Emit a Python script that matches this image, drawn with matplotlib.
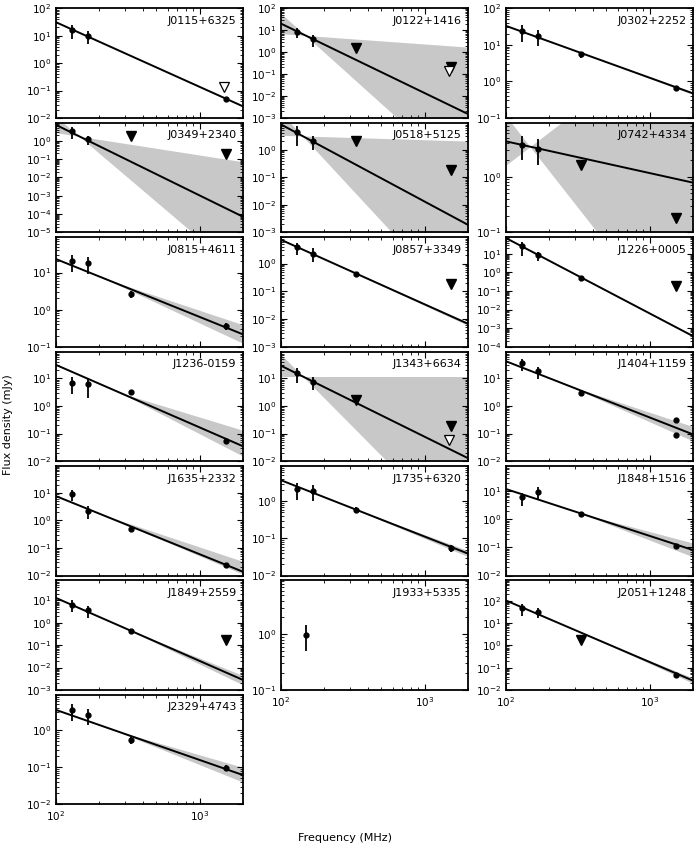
import numpy as np
import matplotlib
matplotlib.use('Agg')
import matplotlib.pyplot as plt
from matplotlib.ticker import LogLocator, NullFormatter

plt.rcParams['font.family'] = 'DejaVu Sans'
plt.rcParams['xtick.direction'] = 'in'
plt.rcParams['ytick.direction'] = 'in'
plt.rcParams['xtick.top'] = True
plt.rcParams['ytick.right'] = True
plt.rcParams['xtick.labelsize'] = 7.5
plt.rcParams['ytick.labelsize'] = 7.5
plt.rcParams['xtick.major.size'] = 4
plt.rcParams['ytick.major.size'] = 4
plt.rcParams['xtick.minor.size'] = 2
plt.rcParams['ytick.minor.size'] = 2
plt.rcParams['axes.linewidth'] = 1.3

names = ['J0115+6325', 'J0122+1416', 'J0302+2252',
         'J0349+2340', 'J0518+5125', 'J0742+4334',
         'J0815+4611', 'J0857+3349', 'J1226+0005',
         'J1236-0159', 'J1343+6634', 'J1404+1159',
         'J1635+2332', 'J1735+6320', 'J1848+1516',
         'J1849+2559', 'J1933+5335', 'J2051+1248',
         'J2329+4743']

y_lo = [1e-2, 1e-3, 1e-1, 1e-5, 1e-3, 1e-1, 1e-1, 1e-3, 1e-4, 1e-2,
        1e-2, 1e-2, 1e-2, 1e-2, 1e-2, 1e-3, 1e-1, 1e-2, 1e-2]
y_hi = [100, 100, 100, 9.5, 9.5, 9.3, 90, 9, 80, 95,
        95, 95, 95, 9, 80, 80, 9.3, 850, 9]

# detections (MHz, mJy)
freq_pts = [[129, 168, 1520], [129, 168], [129, 168, 333, 1520],
            [129, 168], [129, 168], [129, 168],
            [129, 168, 333, 1520], [129, 168, 333], [129, 168, 333],
            [129, 168, 333, 1520], [129, 168], [129, 168, 333, 1520, 1520],
            [129, 168, 333, 1520], [129, 168, 333, 1520], [129, 168, 333, 1520],
            [129, 168, 333], [149], [129, 168, 1520],
            [129, 168, 333, 1520]]
flux_pts = [[16, 10, 0.047], [8.5, 3.8], [23.7, 17.6, 5.5, 0.66],
            [3.2, 1.2], [4.3, 2.0], [3.7, 3.15],
            [20, 17.5, 2.6, 0.36], [3.8, 2.3, 0.43], [26, 8.5, 0.53],
            [7.0, 6.2, 3.1, 0.052], [15.6, 7.5], [35, 18, 2.9, 0.3, 0.09],
            [9.0, 2.2, 0.47, 0.024], [2.1, 1.9, 0.59, 0.056], [6.0, 9.5, 1.5, 0.115],
            [6.5, 3.6, 0.44], [0.97], [47, 33, 0.048],
            [3.4, 2.6, 0.53, 0.098]]
flux_err = [[8.5, 5, 0.008], [4, 2], [11.5, 8.5, 1.0, 0.1],
            [2.0, 0.6], [2.9, 1.0], [1.7, 1.5],
            [9.5, 8.5, 0.5, 0.07], [1.8, 1.2, 0.06], [18, 4.3, 0.06],
            [4.2, 4.3, 0.4, 0.008], [9, 3.6], [17, 8.5, 0.5, 0.03, 0.015],
            [4.0, 1.1, 0.08, 0.004], [1.0, 0.9, 0.1, 0.012], [3.0, 4.2, 0.2, 0.02],
            [3.5, 2.0, 0.05], [0.47], [25, 15, 0.005],
            [1.6, 1.2, 0.12, 0.02]]

# upper limits (filled) and open upper limits
lim_freq = [[], [333, 1520], [], [333, 1520], [333, 1520], [333, 1520],
            [], [1520], [1520], [], [333, 1520], [],
            [], [], [], [1520], [], [333], []]
lim_flux = [[], [1.55, 0.22], [], [1.8, 0.18], [2.1, 0.19], [1.6, 0.18],
            [], [0.18], [0.18], [], [1.7, 0.19], [],
            [], [], [], [0.17], [], [1.7], []]
open_freq = [[1470], [1470], [], [], [], [], [], [], [], [], [1470], [],
             [], [], [], [], [], [], []]
open_flux = [[0.13], [0.14], [], [], [], [], [], [], [], [], [0.057], [],
             [], [], [], [], [], [], []]

# power-law fits: flux at 100 MHz and spectral index
fit_s100 = [31, 20, 33, 7.2, 8.2, 4.3, 23, 7.2, 71, 31,
            29, 42, 7.6, 3.7, 12, 13, None, 105, 3.5]
fit_alpha = [-2.36, -3.17, -1.42, -3.85, -2.8, -0.57, -1.56, -2.33, -4.06, -2.27,
             -2.58, -2.04, -2.11, -1.52, -1.67, -2.82, None, -2.77, -1.35]
# uncertainty band: pivot frequency and index offsets
band_pivot = [300, 148, 300, 145, 141, 147, 220, 200, 200, 280,
              142, 260, 200, 300, 330, 300, None, 400, 250]
band_dlo = [-0.02, -2.73, -0.04, -2.81, -2.83, -2.72, -0.25, -0.06, -0.02, -0.42,
            -2.68, -0.27, -0.09, -0.1, -0.31, -0.27, None, -0.17, -0.21]
band_dhi = [0.02, 2.7, 0.04, 2.63, 2.64, 2.55, 0.27, 0.06, 0.02, 0.68,
            2.58, 0.32, 0.375, 0.1, 0.32, 0.24, None, 0.17, 0.23]
band_both = [False, True, False, True, True, True, False, False, False, False,
             True, False, False, False, False, False, False, False, False]

fig = plt.figure(figsize=(7, 8.5), dpi=100)
W, H = 700., 850.
col_left = [56, 281, 506]
ax_w, ax_h = 187, 109.6
bottom_panels = [16, 17, 18]

f = np.logspace(2, np.log10(2000), 300)

for i, name in enumerate(names):
    row, col = divmod(i, 3)
    top = 8.3 + row * 114.4
    ax = fig.add_axes([col_left[col] / W, 1 - (top + ax_h) / H, ax_w / W, ax_h / H])
    ax.set_xscale('log')
    ax.set_yscale('log')

    if fit_s100[i] is not None:
        line = fit_s100[i] * (f / 100.) ** fit_alpha[i]
        t = np.log10(f / band_pivot[i])
        if not band_both[i]:
            t = np.clip(t, 0, None)
        a = band_dlo[i] * t
        b = band_dhi[i] * t
        ax.fill_between(f, line * 10 ** np.minimum(a, b), line * 10 ** np.maximum(a, b),
                        color='#c8c8c8', lw=0, zorder=1)
        ax.plot(f, line, color='k', lw=1.4, zorder=3)

    ax.errorbar(freq_pts[i], flux_pts[i], yerr=flux_err[i], fmt='o', color='k',
                ms=3.5, elinewidth=1.3, capsize=0, zorder=4)
    if lim_freq[i]:
        ax.plot(lim_freq[i], lim_flux[i], 'v', color='k', ms=7.5, zorder=5)
    if open_freq[i]:
        ax.plot(open_freq[i], open_flux[i], 'v', mfc='white', mec='k', mew=0.9,
                ms=7.5, zorder=6)

    ax.set_xlim(100, 2000)
    ax.set_ylim(y_lo[i], y_hi[i])
    ax.yaxis.set_major_locator(LogLocator(base=10, numticks=20))
    ax.yaxis.set_minor_locator(LogLocator(base=10, subs=np.arange(2, 10), numticks=20))
    ax.yaxis.set_minor_formatter(NullFormatter())
    ax.xaxis.set_minor_formatter(NullFormatter())
    if i not in bottom_panels:
        ax.set_xticklabels([])

    ax.text(0.965, 0.93, name, transform=ax.transAxes, ha='right', va='top',
            fontsize=8)

fig.text(8 / W, 1 - 425 / H, 'Flux density (mJy)', rotation=90, ha='center',
         va='center', fontsize=8)
fig.text(345 / W, 1 - 838 / H, 'Frequency (MHz)', ha='center', va='center',
         fontsize=8)

fig.savefig('out.png', dpi=100)
